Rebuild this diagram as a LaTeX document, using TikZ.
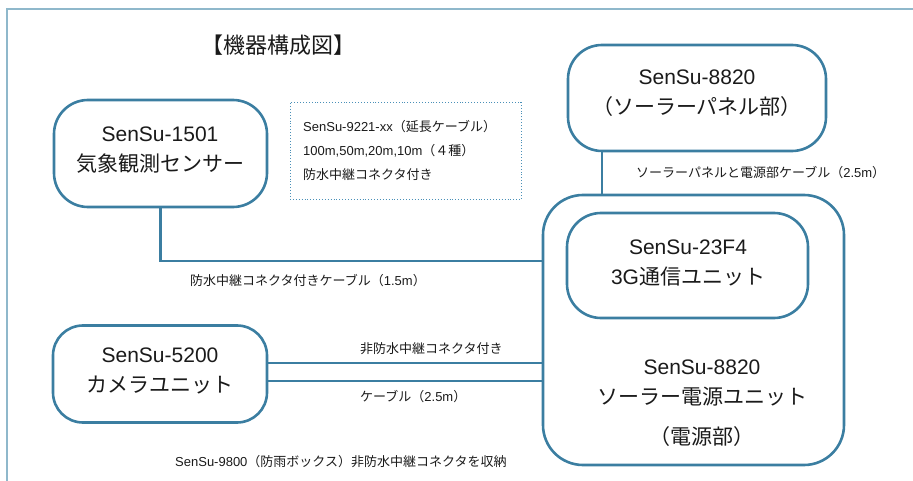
\documentclass[tikz,border=0pt]{standalone}
\usepackage{fontspec}
\setmainfont{Liberation Sans}
\newfontfamily\jp{Noto Sans CJK JP}
\definecolor{boxc}{HTML}{3B7EA1}
\definecolor{framec}{HTML}{8FB8CB}
\definecolor{dotc}{HTML}{4A90B8}
\definecolor{txtc}{HTML}{1A1A1A}
\begin{document}
\begin{tikzpicture}[x=1pt,y=-1pt,
  box/.style={draw=boxc, line width=2.6pt, rounded corners=34pt, inner sep=0pt},
  conn/.style={draw=boxc, line width=2.6pt},
  bigtxt/.style={font=\fontsize{21}{30}\selectfont, align=center, text=txtc, inner sep=0pt},
  lbl/.style={font=\fontsize{13}{16}\selectfont, anchor=west, text=txtc, inner sep=0pt},
]
\useasboundingbox (0,0) rectangle (913,481);
\draw[framec, line width=2pt] (7,481) -- (7,9) -- (913,9);

% title
\node[font=\fontsize{22}{26}\selectfont\jp, text=txtc, inner sep=0pt] (title) at (278,45) {【機器構成図】};

% boxes
\node[box, minimum width=213pt, minimum height=107pt] (sensor) at (160.5,153.5) {};
\node[box, minimum width=258pt, minimum height=106pt] (solar) at (697,98) {};
\node[box, rounded corners=40pt, minimum width=301pt, minimum height=270pt] (big) at (693.5,330) {};
\node[box, minimum width=241pt, minimum height=105pt] (inner) at (687.5,265.5) {};
\node[box, rounded corners=30pt, minimum width=214pt, minimum height=97pt] (camera) at (160,374) {};
\node[draw=dotc, dotted, line width=0.9pt, minimum width=231pt, minimum height=97pt] (ext) at (405.5,151) {};

% box texts
\node[bigtxt] (sensorT) at (160,150) {SenSu-1501\\{\jp 気象観測センサー}};
\node[bigtxt] (solarT) at (697,93) {SenSu-8820\\{\jp （ソーラーパネル部）}};
\node[bigtxt] (innerT) at (688,263) {SenSu-23F4\\3G{\jp 通信ユニット}};
\node[bigtxt] (bigT) at (702,383) {SenSu-8820\\{\jp ソーラー電源ユニット}};
\node[bigtxt] (bigT2) at (702,437) {\jp （電源部）};
\node[bigtxt] (cameraT) at (160,371) {SenSu-5200\\{\jp カメラユニット}};

% extension cable note
\node[lbl] (ext1) at (303,127) {SenSu-9221-xx{\jp （延長ケーブル）}};
\node[lbl] (ext2) at (303,151) {100m,50m,20m,10m{\jp （４種）}};
\node[lbl] (ext3) at (303,175) {\jp 防水中継コネクタ付き};

% connector helpers
\coordinate (y261) at (0,261);
\coordinate (x602) at (602,0);
\coordinate (y363) at (0,363);
\coordinate (y381) at (0,381);

% connectors
\draw[conn] (sensor.south) |- (big.west |- y261);
\draw[conn] (solar.south -| x602) -- (big.north -| x602);
\draw[conn] (camera.east |- y363) -- (big.west |- y363);
\draw[conn] (camera.east |- y381) -- (big.west |- y381);

% labels
\node[lbl] (l1) at (190,281) {{\jp 防水中継コネクタ付きケーブル（}1.5m{\jp ）}};
\node[lbl] (l2) at (360,349) {\jp 非防水中継コネクタ付き};
\node[lbl] (l3) at (360,397) {{\jp ケーブル（}2.5m{\jp ）}};
\node[lbl] (l4) at (175,462) {SenSu-9800{\jp （防雨ボックス）非防水中継コネクタを収納}};
\node[lbl] (l5) at (636,173) {{\jp ソーラーパネルと電源部ケーブル（}2.5m{\jp ）}};
\end{tikzpicture}
\end{document}
